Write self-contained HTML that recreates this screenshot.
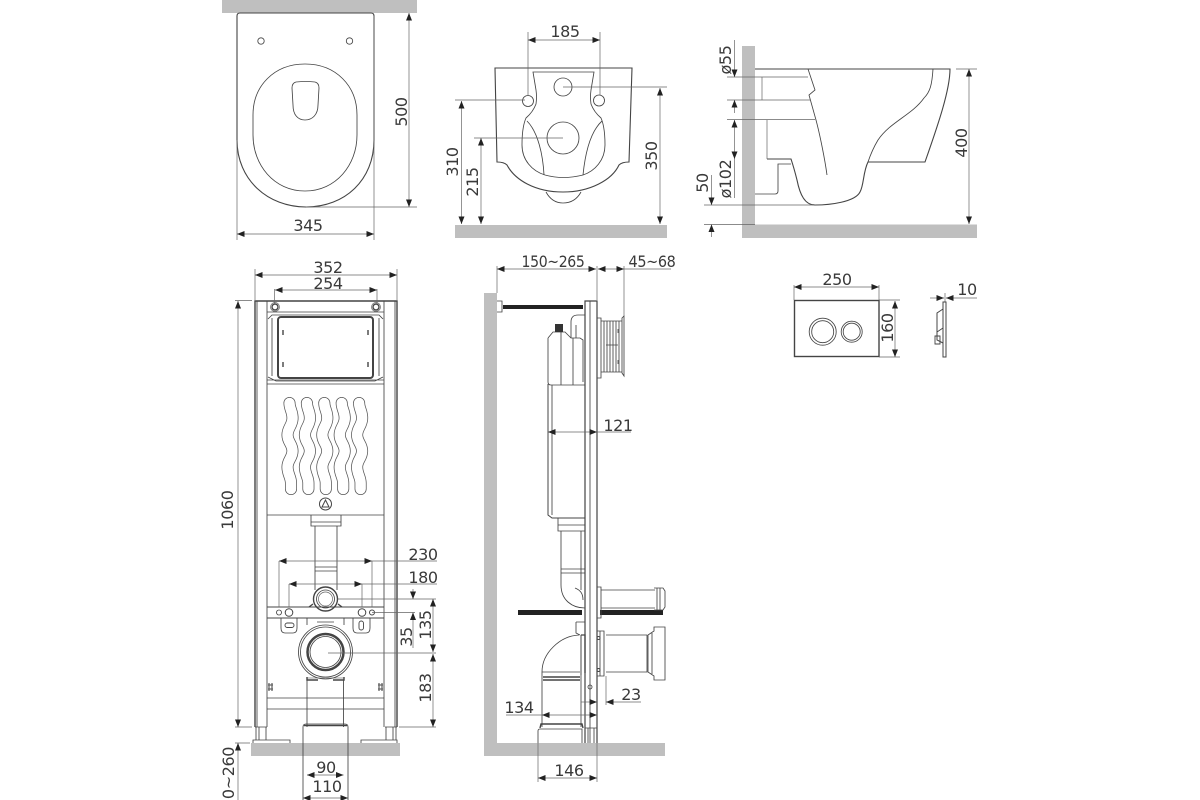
<!DOCTYPE html>
<html><head><meta charset="utf-8"><style>
html,body{margin:0;padding:0;background:#fff}
svg{display:block}
text{font-family:"DejaVu Sans","Liberation Sans",sans-serif;font-size:16px;letter-spacing:-.4px;fill:#3a3a3a;text-anchor:middle}
.o{fill:none;stroke:#444;stroke-width:.85}
.t{fill:none;stroke:#666;stroke-width:.7}
.k{fill:none;stroke:#444;stroke-width:1.4}
.d{fill:none;stroke:#666;stroke-width:.7}
.a{marker-end:url(#ar)}
.b{marker-start:url(#as);marker-end:url(#ar)}
.f{fill:#bfbfbf}
</style></head><body>
<svg width="1200" height="800" viewBox="0 0 1200 800" xmlns="http://www.w3.org/2000/svg">
<defs>
<marker id="ar" markerUnits="userSpaceOnUse" markerWidth="8" markerHeight="6" refX="7.5" refY="3" orient="auto"><path d="M0 0L7.5 3L0 6Z" fill="#222"/></marker>
<marker id="as" markerUnits="userSpaceOnUse" markerWidth="8" markerHeight="6" refX="0" refY="3" orient="auto"><path d="M7.5 0L0 3L7.5 6Z" fill="#222"/></marker>
</defs>

<!-- Seat -->
<rect class="f" x="222" y="0" width="195" height="13"/>
<path class="k" style="stroke-width:1.1" d="M237 16Q237 13 240 13L371 13Q374 13 374 16L374 140C374 180 345 207 306 207C268 207 237 180 237 140Z"/>
<circle class="o" cx="261" cy="41" r="3.2"/><circle class="o" cx="349.500" cy="41" r="3.2"/>
<path class="o" d="M305 64C336 64 357 86 357 115L357 135C357 165 336 191 305 191C274 191 253 165 253 135L253 115C253 86 274 64 305 64Z"/>
<path class="o" d="M296 82Q306 81 315 82Q319 83 319 88L318 105C318 115 312 120 305 120C298 120 293 115 293 105L292 88Q292 83 296 82Z"/>
<path class="d" d="M237 140V240M374 16V240M306 207H417"/>
<line class="d b" x1="409" y1="13" x2="409" y2="207"/>
<line class="d b" x1="237" y1="234" x2="374" y2="234"/>
<text x="308" y="231">345</text>
<text transform="translate(407,112) rotate(-90)">500</text>

<!-- Front bowl -->
<rect class="f" x="455" y="225" width="212" height="13"/>
<path class="k" style="stroke-width:1.1" d="M495 68L632 68L629 162Q622 162 619 165C612 180 590 192 563 192C535 192 515 180 507 165Q504 162 497 162Z"/>
<path class="o" d="M546 192Q552 203 563 203Q575 203 581 192"/>
<path class="o" d="M533 72L594 72L591 90Q590 97 591 104Q594 112 601 118Q605 127 605 145C605 160 595 171 583 175Q563 180 545 175C532 171 522 160 522 145Q522 127 526 118Q533 112 536 104Q537 97 536 90Z"/>
<path class="o" d="M527 121C538 132 543 155 544 175M602 121C590 132 585 155 583 175"/>
<circle class="o" cx="528" cy="101" r="5.500"/><circle class="o" cx="599" cy="100.500" r="5.500"/>
<circle class="o" cx="563" cy="87" r="9"/><circle class="o" cx="563" cy="138" r="16"/>
<path class="d" d="M528 32V96M600 32V95M455 100H525M474 138H563M563 87H667"/>
<line class="d b" x1="528" y1="40" x2="600" y2="40"/>
<line class="d b" x1="461.500" y1="101" x2="461.500" y2="224"/>
<line class="d b" x1="481" y1="138" x2="481" y2="224"/>
<line class="d b" x1="660" y1="88" x2="660" y2="224"/>
<text x="565" y="37">185</text>
<text transform="translate(458,162) rotate(-90)">310</text>
<text transform="translate(478,182) rotate(-90)">215</text>
<text transform="translate(657,156) rotate(-90)">350</text>

<!-- Side bowl -->
<rect class="f" x="742" y="46" width="13" height="192"/>
<rect class="f" x="742" y="224.500" width="235" height="13.500"/>
<path class="k" style="stroke-width:1.1" d="M755 69H950C950 90 938 125 925 162H868C863 172 864 185 860 192C855 202 830 205 815 205C805 205 800 195 797 180C795 172 793 165 791 159H767"/>
<path class="o" d="M791 164H778V191Q778 194 775 194H755"/>
<path class="o" d="M808 69L815 90L809 95L816 120C820 135 825 160 827 175M933 69C932 85 930 92 924 98C912 115 890 122 878 140Q872 150 868 162"/>
<path class="t" d="M762 77V100M767 120V159M727 77H808M727 100H810M727 119.500H815M704 205H813M704 224.500H755M956 69H977"/>
<line class="d a" x1="734.500" y1="40" x2="734.500" y2="77"/>
<line class="d a" x1="734.500" y1="113" x2="734.500" y2="100"/>
<line class="d b" x1="734.500" y1="120" x2="734.500" y2="159"/>
<line class="d" x1="734.500" y1="159" x2="734.500" y2="198"/>
<line class="d a" x1="711.500" y1="175" x2="711.500" y2="205"/>
<line class="d a" x1="711.500" y1="237" x2="711.500" y2="224.500"/>
<line class="d b" x1="969" y1="69" x2="969" y2="224"/>
<text transform="translate(731,60) rotate(-90)">ø55</text>
<text transform="translate(731,179) rotate(-90)">ø102</text>
<text transform="translate(708,183) rotate(-90)">50</text>
<text transform="translate(967,143) rotate(-90)">400</text>

<!-- Frame front -->
<rect class="f" x="251" y="743" width="149" height="13"/>
<path class="k" d="M255 727V301H397V727"/>
<path class="o" d="M257 727V301M395 727V301M267 727V301M384 727V301M255 727H267M385 727H397M267 312H384"/>
<circle class="k" cx="275" cy="307" r="3"/><circle class="k" cx="376" cy="307" r="3"/>
<circle class="t" cx="275" cy="307" r="4.500"/><circle class="t" cx="376" cy="307" r="4.500"/>
<rect class="k" style="stroke-width:2" x="278" y="317" width="95" height="61" rx="3"/>
<path class="o" d="M267 384H384M267 380H384M268 319L272 315H379L383 319M272 318V376M379 318V376M268 377L276 381H375L383 377"/>
<path class="k" d="M283 330V335M283 362V367M368 330V335M368 362V367"/>
<g id="w1" fill="none" stroke-linecap="round" stroke-linejoin="round">
<path stroke="#555" stroke-width="12" d="M289.500 403C289.500 409 293 412 292.500 419C292 426 287.500 428 287.500 435C287.500 442 292.500 444 292.500 451C292.500 458 287.500 460 287.500 467C287.500 474 291 477 291 483L291 489"/>
<path stroke="#fff" stroke-width="10.500" d="M289.500 403C289.500 409 293 412 292.500 419C292 426 287.500 428 287.500 435C287.500 442 292.500 444 292.500 451C292.500 458 287.500 460 287.500 467C287.500 474 291 477 291 483L291 489"/>
</g>
<use href="#w1" x="17.400"/><use href="#w1" x="34.800"/><use href="#w1" x="52.200"/><use href="#w1" x="69.600"/>
<circle class="k" style="stroke-width:1" cx="325.500" cy="504" r="6"/>
<path class="k" style="stroke-width:1" d="M325.500 500L322 507H329Z"/>
<path class="o" d="M267 515H384M311 515V526H341V515M311 522H341M315 526V590M337 526V590M315 567H337M315 571H337"/>
<circle class="k" cx="325.500" cy="599" r="12"/><circle class="o" cx="325.500" cy="599" r="9"/><circle class="t" cx="325.500" cy="599" r="7"/>
<path class="k" d="M309 607L313 604M342 607L338 604"/>
<path class="k" style="stroke-width:1" d="M267 607H384M267 618H384"/>
<circle class="o" cx="279" cy="612.500" r="2.500"/><circle class="k" style="stroke-width:1" cx="372" cy="612.500" r="2.500"/>
<circle class="k" style="stroke-width:1" cx="289" cy="612.500" r="3.800"/><circle class="k" style="stroke-width:1" cx="362" cy="612.500" r="3.800"/>
<path class="o" d="M281 618V628Q281 633 285 633H293Q297 633 297 628V618M353 618V628Q353 633 357 633H366Q370 633 370 628V618"/>
<rect class="k" style="stroke-width:.9" x="285" y="623" width="9" height="4.500" rx="2.200"/><rect class="k" style="stroke-width:.9" x="359" y="621" width="4.500" height="9" rx="2.200"/>
<path class="o" d="M307 618H344M307 618V625M344 618V625M317 622H334"/>
<circle class="o" cx="325.500" cy="652" r="27"/><circle class="o" cx="325.500" cy="652" r="25"/>
<circle class="k" style="stroke-width:2.500" cx="325.500" cy="652" r="18"/><circle class="o" cx="325.500" cy="652" r="15.500"/>
<path class="k" d="M307 677V680H318M344 677V680H333"/><path class="k" d="M307 678H344" style="stroke-width:.6"/>
<path class="o" d="M307 680V727M343.500 680V727M267 698H384M267 709H384"/>
<path class="k" style="stroke-width:1.3;stroke:#666" d="M269 683V691M272 683V691M268 685H273M268 689H273M379 683V691M382 683V691M378 685H383M378 689H383"/>
<path class="o" d="M303 800V727Q303 724 306 724H345Q348 724 348 727V800"/>
<path class="k" d="M304 725.500H347"/>
<path class="o" d="M256 727V740M266 727V740M259 727V740M386 727V740M396 727V740M393 727V740"/>
<path class="o" d="M253 743V740H290V743M361 743V740H397V743"/>
<path class="d" d="M255 269V300M397 269V300M274.500 289V304M377 289V304M235 300.500H252M235 727H252M235 743H250M399 727H436M279 561V607M372 561V607M289 584V607M362 584V607M338 599H436M372 612.500H415M328 653H436"/>
<line class="d b" x1="255" y1="275" x2="397" y2="275"/>
<line class="d b" x1="275" y1="290" x2="377" y2="290"/>
<line class="d b" x1="238" y1="301" x2="238" y2="727"/>
<line class="d a" x1="238" y1="800" x2="238" y2="743"/>
<line class="d b" x1="279" y1="561" x2="372" y2="561"/><path class="d" d="M372 561H437"/>
<line class="d b" x1="289" y1="584" x2="362" y2="584"/><path class="d" d="M362 584H437"/>
<line class="d a" x1="413" y1="589" x2="413" y2="599"/>
<line class="d a" x1="413" y1="648" x2="413" y2="612.500"/>
<line class="d b" x1="433" y1="599" x2="433" y2="652"/>
<line class="d b" x1="433" y1="654" x2="433" y2="727"/>
<line class="d b" x1="307" y1="775" x2="343.500" y2="775"/>
<line class="d b" x1="303" y1="798" x2="348" y2="798"/>
<text x="328" y="273">352</text><text x="328" y="289">254</text>
<text transform="translate(233,510) rotate(-90)">1060</text>
<text transform="translate(234,773) rotate(-90)">0~260</text>
<text x="423" y="560">230</text><text x="423" y="583">180</text>
<text transform="translate(412,637) rotate(-90)">35</text>
<text transform="translate(431,625) rotate(-90)">135</text>
<text transform="translate(431,688) rotate(-90)">183</text>
<text x="326" y="773">90</text><text x="327" y="792">110</text>

<!-- Frame side -->
<rect class="f" x="484" y="293" width="13" height="463"/>
<rect class="f" x="484" y="743" width="181" height="13"/>
<path class="k" style="stroke-width:1.2" d="M585 743V301H597V743"/>
<path class="o" d="M590 301V743"/>
<path class="o" d="M497 301H502V312H497"/>
<rect x="503" y="305" width="80" height="4" fill="#222"/>
<path class="o" d="M597 318H601V378H597M601 321H622M601 372H622M604 321V372M607 321V372M610 321V372M613 321V372M616 321V372M619 321V372M622 318L624 316V376L622 373Z"/>
<path class="k" style="stroke-width:.8" d="M606 345H618M618 329V333M618 360V364"/>
<path class="o" d="M548 338L553 332H565L571 338H580L583 340V382M548 338V382Q548 385 551 385H585M561 332V385M573 338V385"/>
<rect x="555" y="324" width="8" height="8" fill="#333"/>
<path class="o" d="M571 338V322Q571 315 578 315H585M576 338V325"/>
<path class="k" style="stroke-width:1" d="M548 384V515L552 518H585"/>
<path class="o" d="M552 385V515M558 518V531H585M558 525H585"/>
<path class="o" d="M561 531V585C561 600 572 608 585 608M581 531V590M561 569H585M561 573H585M575 588C580 590 583 593 583 600"/>
<rect x="518" y="610" width="64" height="5" fill="#222"/>
<rect x="600" y="610" width="63" height="5" fill="#222"/>
<path class="o" d="M597 587H601V618H597M601 590H655M601 608H655M654 588H663L665 591V607L663 610H654M657 588V610M660 588V610"/>
<path class="o" d="M576 622H585M576 622V633L580 635M542 727V672C542 653 560 636 579 635M581 635V675M542 672H580"/>
<path class="k" d="M543 677H580M543 680H580"/>
<path class="o" d="M581 635V727"/>
<path class="k" d="M581 635L585 635V673" style="stroke-width:1.3"/>
<path class="k" d="M540 728L541 724H582L583 728" style="stroke-width:1.4"/>
<path class="o" d="M538 743V731Q538 729 540 729H582V743"/>
<path class="o" d="M585 728H597M588 728V743M594 728V743"/>
<circle class="o" cx="590" cy="687" r="2"/>
<path class="o" d="M597 631H604V676H597M600 631V676M606 635H647V672H606M648 635V672L654 676V680H665V627H654V631L648 635M652 633V674"/>
<circle class="k" style="stroke-width:.9" cx="598.500" cy="638" r="1.500"/><circle class="k" style="stroke-width:.9" cx="598.500" cy="670" r="1.500"/>
<path class="d" d="M497 266V293M597 266V300M624 266V316M606 676V705M538 743V782M597 743V782"/>
<line class="d b" x1="497" y1="269" x2="596" y2="269"/>
<line class="d b" x1="598" y1="269" x2="624" y2="269"/><path class="d" d="M624 269H671"/>
<line class="d b" x1="548" y1="432" x2="597" y2="432"/><path class="d" d="M597 432H631"/>
<line class="d a" x1="581" y1="702" x2="597" y2="702"/>
<line class="d a" x1="641" y1="702" x2="606" y2="702"/>
<line class="d b" x1="542" y1="715" x2="597" y2="715"/><path class="d" d="M506 715H542"/>
<line class="d b" x1="538" y1="778" x2="597" y2="778"/>
<text x="553" y="267" textLength="63" lengthAdjust="spacingAndGlyphs">150~265</text><text x="652" y="267" textLength="47" lengthAdjust="spacingAndGlyphs">45~68</text>
<text x="618" y="431">121</text><text x="631" y="700">23</text>
<text x="519" y="713">134</text><text x="569" y="776">146</text>

<!-- Push plate -->
<rect class="k" x="794.500" y="300.500" width="84.500" height="56"/>
<circle class="o" cx="822.700" cy="331.700" r="13.500"/><circle class="o" cx="822.700" cy="331.700" r="11"/>
<circle class="o" cx="851.700" cy="331.700" r="10.500"/><circle class="o" cx="851.700" cy="331.700" r="8.500"/>
<path class="d" d="M794 285V300M879 285V300M879 300H900M879 357H900M945 293V302"/>
<line class="d b" x1="794" y1="287" x2="879" y2="287"/>
<line class="d b" x1="895" y1="301" x2="895" y2="357"/>
<line class="d a" x1="930" y1="298" x2="944" y2="298"/>
<line class="d a" x1="977" y1="298" x2="946" y2="298"/>
<path class="k" style="stroke-width:1" d="M943 302H946V357H943ZM943 309L937 313V340L943 343"/>
<path class="k" style="stroke-width:.9" d="M937 332L943 328M935 336H940V344H935Z"/>
<text x="837" y="285">250</text>
<text transform="translate(893,328) rotate(-90)">160</text>
<text x="967" y="295">10</text>
</svg>
</body></html>
